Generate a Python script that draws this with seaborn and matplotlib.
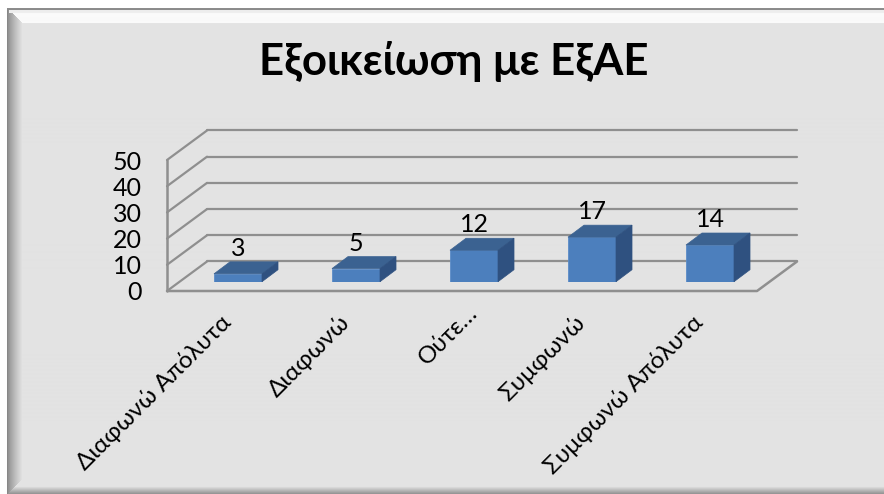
import numpy as np
import pandas as pd
import seaborn as sns
import matplotlib.pyplot as plt
from matplotlib.patches import Polygon
from matplotlib.transforms import ScaledTranslation

categories = ["Διαφωνώ Απόλυτα", "Διαφωνώ", "Ούτε…", "Συμφωνώ", "Συμφωνώ Απόλυτα"]
values = [3, 5, 12, 17, 14]
y_ticks = [0, 10, 20, 30, 40, 50]
title = "Εξοικείωση με ΕξΑΕ"

W, H = 884, 494
GRID = "#8f8f8f"
FRONT, TOP, SIDE = "#4c7fbd", "#3b6291", "#2f5180"

# depth of the fake 3d box, in data units of the front plane
DEPTH_X = 40 / 118
DEPTH_Y = 29.5 / 2.62
BAR_DX = 16 / 118
BAR_DY = 12 / 2.62

sns.set_theme(style="white")
plt.rcParams["font.family"] = ["Lato", "Noto Sans", "DejaVu Sans"]

fig = plt.figure(figsize=(W / 100, H / 100), dpi=100, facecolor="white")


def pixel_axes(left, right, top, bottom):
    return fig.add_axes([left / W, 1 - bottom / H, (right - left) / W, (bottom - top) / H])


# bevelled chart area
bg = pixel_axes(0, W, 0, H)
yy, xx = np.mgrid[0:H, 0:W]
img = np.full((H, W), 227.0)
d_left, d_top, d_bot = xx - 7.0, yy - 9.0, 493.0 - yy
left_zone = (d_left < 15) & (d_left <= d_top) & (d_left <= d_bot)
img[left_zone] = 135 + (227 - 135) * (d_left[left_zone] / 15) ** 0.8
top_zone = (d_top < 15) & (d_top < d_left)
img[top_zone] = 250
img[(d_top < 2) & (d_left >= 0)] = 140
img[(d_top >= 2) & (d_top < 5) & (d_left >= 2)] = 238
bot_zone = (d_bot < 7) & (d_bot < d_left)
img[bot_zone] = 227 - (7 - d_bot[bot_zone]) * 11
img[(xx < 7) | (yy < 9)] = 255
bg.imshow(img, cmap="gray", vmin=0, vmax=255, aspect="auto", interpolation="bilinear")
bg.axis("off")

# front plane of the box, holds the axis labels
ax = pixel_axes(167, 757, 160, 291)
ax.patch.set_alpha(0)
ax.set_xlim(-0.5, 4.5)
ax.set_ylim(0, 50)
sns.despine(ax=ax, left=True, bottom=True, top=True, right=True)

x0, x1 = -0.5, 4.5
for v in y_ticks:
    ax.plot([x0, x0 + DEPTH_X], [v, v + DEPTH_Y], color=GRID, lw=1.6, clip_on=False)
    ax.plot([x0 + DEPTH_X, x1 + DEPTH_X], [v + DEPTH_Y, v + DEPTH_Y], color=GRID, lw=1.6, clip_on=False)
ax.plot([x0, x0], [0, 50], color=GRID, lw=1.8, clip_on=False)
ax.plot([x0, x1, x1 + DEPTH_X], [0, 0, DEPTH_Y], color=GRID, lw=1.8, clip_on=False)

ax.set_yticks(y_ticks)
ax.set_yticklabels([str(v) for v in y_ticks], fontsize=18, color="black")
ax.set_xticks(range(len(categories)))
ax.set_xticklabels(categories, fontsize=17.5, color="black", rotation=45, ha="right", rotation_mode="anchor")
ax.tick_params(axis="y", length=0, pad=18)
ax.tick_params(axis="x", length=0, pad=16)

# category labels sit a little left of the tick position, the short one higher up
for i, label in enumerate(ax.get_xticklabels()):
    dx, dy = (5, 11) if i == 2 else (-6, 2)
    label.set_transform(label.get_transform() + ScaledTranslation(dx / 100, dy / 100, fig.dpi_scale_trans))

# bars stand a bit inside the floor, so they get their own shifted axes
bar_ax = pixel_axes(179, 769, 150.7, 281.7)
bar_ax.patch.set_alpha(0)
df = pd.DataFrame({"category": categories, "value": values})
sns.barplot(data=df, x="category", y="value", color=FRONT, saturation=1, width=0.407,
            edgecolor="#5b8cc8", linewidth=0.6, ax=bar_ax, zorder=3)
bar_ax.set_xlim(-0.5, 4.5)
bar_ax.set_ylim(0, 50)
bar_ax.axis("off")

for bar in bar_ax.containers[0]:
    l, w, h = bar.get_x(), bar.get_width(), bar.get_height()
    r = l + w
    bar_ax.add_patch(Polygon([(l, h), (r, h), (r + BAR_DX, h + BAR_DY), (l + BAR_DX, h + BAR_DY)],
                             facecolor=TOP, edgecolor=TOP, lw=0.5, clip_on=False, zorder=3))
    bar_ax.add_patch(Polygon([(r, 0), (r + BAR_DX, BAR_DY), (r + BAR_DX, h + BAR_DY), (r, h)],
                             facecolor=SIDE, edgecolor=SIDE, lw=0.5, clip_on=False, zorder=3))

bar_ax.bar_label(bar_ax.containers[0], labels=[str(v) for v in values], fontsize=18, color="black",
                 padding=10, zorder=5, clip_on=False)

fig.text(453.5 / W, 1 - 62 / H, title, fontsize=31.5, fontweight="bold", color="black", ha="center", va="center")

fig.savefig("out.png", dpi=100)
